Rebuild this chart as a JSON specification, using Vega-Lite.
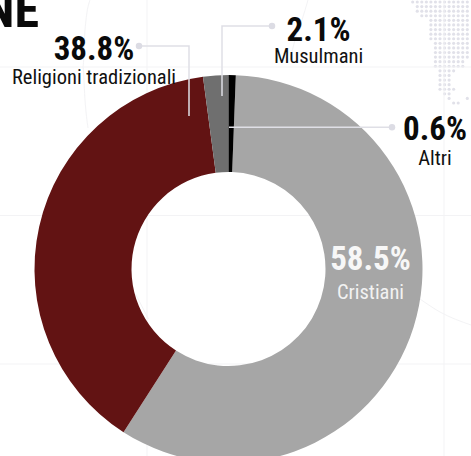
{
"$schema":"https://vega.github.io/schema/vega-lite/v6.json",
"width":471,"height":456,"padding":0,"autosize":{"type":"none"},
"background":"#ffffff",
"config":{"view":{"stroke":null},"axis":{"disable":true},"legend":{"disable":true}},
"datasets":{
"religions":[
{"category":"Cristiani","share":58.5,"slot":1,"labelX":142,"valueY":-1,"nameY":-30},
{"category":"Religioni tradizionali","share":38.8,"slot":2,"labelX":-134.5,"valueY":209,"nameY":185},
{"category":"Musulmani","share":2.1,"slot":3,"labelX":90,"valueY":228,"nameY":206},
{"category":"Altri","share":0.6,"slot":4,"labelX":206.5,"valueY":129,"nameY":104}
],
"leaders":[
{"who":"Religioni tradizionali","step":1,"x":-89.5,"y":223},{"who":"Religioni tradizionali","step":2,"x":-39.5,"y":223},{"who":"Religioni tradizionali","step":3,"x":-39.5,"y":153},
{"who":"Musulmani","step":1,"x":43.5,"y":243},{"who":"Musulmani","step":2,"x":-6.5,"y":243},{"who":"Musulmani","step":3,"x":-6.5,"y":173},
{"who":"Altri","step":1,"x":163.5,"y":141.7},{"who":"Altri","step":2,"x":0.5,"y":141.7}
],
"parallels":[{"y":202},{"y":53.5},{"y":-95}],
"meridians":[{"x":-81.5},{"x":215.5}],
"globeCurves":[
{"c":"a","s":1,"x":-138.5,"y":269},{"c":"a","s":2,"x":-143.5,"y":239},{"c":"a","s":3,"x":-145.5,"y":202},{"c":"a","s":4,"x":-143.5,"y":169},{"c":"a","s":5,"x":-140.5,"y":141},
{"c":"b","s":1,"x":79.5,"y":269},{"c":"b","s":2,"x":73.5,"y":249},{"c":"b","s":3,"x":66.5,"y":229},{"c":"b","s":4,"x":61.5,"y":209},
{"c":"c","s":1,"x":191.5,"y":-30},{"c":"c","s":2,"x":211.5,"y":-43},{"c":"c","s":3,"x":242.5,"y":-56},
{"c":"d","s":1,"x":-93,"y":-25},{"c":"d","s":2,"x":-80,"y":-50}
],
"mapDots":[
{"col":0,"row":0},{"col":1,"row":0},{"col":2,"row":0},{"col":3,"row":0},{"col":4,"row":0},{"col":5,"row":0},{"col":6,"row":0},{"col":7,"row":0},{"col":8,"row":0},{"col":9,"row":0},{"col":10,"row":0},{"col":11,"row":0},{"col":12,"row":0},
{"col":1,"row":1},{"col":2,"row":1},{"col":3,"row":1},{"col":4,"row":1},{"col":5,"row":1},{"col":6,"row":1},{"col":7,"row":1},{"col":8,"row":1},{"col":9,"row":1},{"col":10,"row":1},{"col":11,"row":1},{"col":12,"row":1},
{"col":1,"row":2},{"col":2,"row":2},{"col":3,"row":2},{"col":4,"row":2},{"col":5,"row":2},{"col":6,"row":2},{"col":7,"row":2},{"col":8,"row":2},{"col":9,"row":2},{"col":10,"row":2},{"col":11,"row":2},{"col":12,"row":2},
{"col":2,"row":3},{"col":3,"row":3},{"col":4,"row":3},{"col":5,"row":3},{"col":6,"row":3},{"col":7,"row":3},{"col":8,"row":3},{"col":9,"row":3},{"col":10,"row":3},{"col":11,"row":3},{"col":12,"row":3},
{"col":4,"row":4},{"col":5,"row":4},{"col":6,"row":4},{"col":7,"row":4},{"col":8,"row":4},{"col":9,"row":4},{"col":10,"row":4},{"col":11,"row":4},{"col":12,"row":4},
{"col":4,"row":5},{"col":5,"row":5},{"col":6,"row":5},{"col":7,"row":5},{"col":8,"row":5},{"col":9,"row":5},{"col":10,"row":5},{"col":11,"row":5},{"col":12,"row":5},
{"col":4,"row":6},{"col":5,"row":6},{"col":6,"row":6},{"col":7,"row":6},{"col":8,"row":6},{"col":9,"row":6},{"col":10,"row":6},{"col":11,"row":6},{"col":12,"row":6},
{"col":4,"row":7},{"col":5,"row":7},{"col":6,"row":7},{"col":7,"row":7},{"col":8,"row":7},{"col":9,"row":7},{"col":10,"row":7},{"col":11,"row":7},{"col":12,"row":7},
{"col":4,"row":8},{"col":5,"row":8},{"col":6,"row":8},{"col":7,"row":8},{"col":8,"row":8},{"col":9,"row":8},{"col":10,"row":8},{"col":11,"row":8},{"col":12,"row":8},
{"col":5,"row":9},{"col":6,"row":9},{"col":7,"row":9},{"col":8,"row":9},{"col":9,"row":9},{"col":10,"row":9},{"col":11,"row":9},{"col":12,"row":9},
{"col":5,"row":10},{"col":6,"row":10},{"col":7,"row":10},{"col":8,"row":10},{"col":9,"row":10},{"col":10,"row":10},{"col":11,"row":10},{"col":12,"row":10},
{"col":5,"row":11},{"col":6,"row":11},{"col":7,"row":11},{"col":8,"row":11},{"col":9,"row":11},{"col":10,"row":11},{"col":11,"row":11},{"col":12,"row":11},
{"col":5,"row":12},{"col":6,"row":12},{"col":7,"row":12},{"col":8,"row":12},{"col":9,"row":12},{"col":10,"row":12},{"col":11,"row":12},{"col":12,"row":12},
{"col":5,"row":13},{"col":6,"row":13},{"col":7,"row":13},{"col":8,"row":13},{"col":9,"row":13},{"col":10,"row":13},{"col":11,"row":13},
{"col":5,"row":14},{"col":6,"row":14},{"col":7,"row":14},{"col":8,"row":14},{"col":9,"row":14},{"col":10,"row":14},{"col":11,"row":14},
{"col":6,"row":15},{"col":7,"row":15},{"col":8,"row":15},{"col":9,"row":15},
{"col":6,"row":16},{"col":7,"row":16},{"col":8,"row":16},
{"col":6,"row":17},{"col":7,"row":17},{"col":8,"row":17},
{"col":6,"row":18},{"col":7,"row":18},{"col":8,"row":18},
{"col":6,"row":19},{"col":7,"row":19},{"col":8,"row":19},{"col":9,"row":19},
{"col":7,"row":20},{"col":8,"row":20},
{"col":8,"row":21},{"col":12,"row":21},
{"col":9,"row":22},{"col":10,"row":22}
]
},
"resolve":{"scale":{"x":"independent","y":"independent"}},
"layer":[
{
"data":{"name":"mapDots"},
"mark":{"type":"point","filled":true,"opacity":1,"size":10,"color":"#e1e1e9"},
"encoding":{
"x":{"field":"col","type":"quantitative","scale":{"domain":[0,12],"range":[412.7,467.3],"nice":false,"zero":false}},
"y":{"field":"row","type":"quantitative","scale":{"domain":[0,22],"range":[2,103],"nice":false,"zero":false}}
}
},
{
"layer":[
{"data":{"name":"parallels"},"mark":{"type":"rule","color":"#f3f3f5","strokeWidth":1},
"encoding":{"y":{"field":"y","type":"quantitative","scale":{"domain":[-187,269],"range":[456,0],"nice":false,"zero":false}}}},
{"data":{"name":"meridians"},"mark":{"type":"rule","color":"#f3f3f5","strokeWidth":1},
"encoding":{"x":{"field":"x","type":"quantitative","scale":{"domain":[-228.5,242.5],"range":[0,471],"nice":false,"zero":false}}}},
{"data":{"name":"globeCurves"},"mark":{"type":"line","color":"#f3f3f5","strokeWidth":1,"interpolate":"monotone"},
"encoding":{"x":{"field":"x","type":"quantitative"},"y":{"field":"y","type":"quantitative"},"detail":{"field":"c"},"order":{"field":"s"}}},
{"data":{"name":"religions"},"mark":{"type":"arc","outerRadius":194,"innerRadius":97},
"encoding":{
"x":{"datum":0,"type":"quantitative"},"y":{"datum":0,"type":"quantitative"},
"theta":{"field":"share","type":"quantitative","stack":true,"scale":{"domain":[0,100],"range":[0.0377,6.3209]}},
"order":{"field":"slot"},
"color":{"field":"category","type":"nominal","scale":{"domain":["Cristiani","Religioni tradizionali","Musulmani","Altri"],"range":["#a6a6a6","#621313","#6f6f6f","#000000"]}}
}},
{"data":{"name":"leaders"},"mark":{"type":"line","color":"#dfdfe6","strokeWidth":1.5},
"encoding":{"x":{"field":"x","type":"quantitative"},"y":{"field":"y","type":"quantitative"},"detail":{"field":"who"},"order":{"field":"step"}}},
{"data":{"name":"leaders"},"transform":[{"filter":"datum.step==1"}],"mark":{"type":"point","filled":true,"opacity":1,"size":42,"color":"#dcdce4"},
"encoding":{"x":{"field":"x","type":"quantitative"},"y":{"field":"y","type":"quantitative"}}},
{"data":{"name":"religions"},"transform":[{"filter":"datum.category!='Cristiani'"},{"calculate":"format(datum.share,'.1f')+'%'","as":"pct"}],
"mark":{"type":"text","font":"Roboto Condensed, DejaVu Sans Condensed, Liberation Sans Narrow, sans-serif","fontWeight":"bold","fontSize":33,"baseline":"alphabetic","align":"center","color":"#0a0a0a"},
"encoding":{"x":{"field":"labelX","type":"quantitative"},"y":{"field":"valueY","type":"quantitative"},"text":{"field":"pct"}}},
{"data":{"name":"religions"},"transform":[{"filter":"datum.category!='Cristiani'"}],
"mark":{"type":"text","font":"Roboto Condensed, DejaVu Sans Condensed, Liberation Sans Narrow, sans-serif","fontSize":20.5,"baseline":"alphabetic","align":"center","color":"#111111"},
"encoding":{"x":{"field":"labelX","type":"quantitative"},"y":{"field":"nameY","type":"quantitative"},"text":{"field":"category"}}},
{"data":{"name":"religions"},"transform":[{"filter":"datum.category=='Cristiani'"},{"calculate":"format(datum.share,'.1f')+'%'","as":"pct"}],
"mark":{"type":"text","font":"Roboto Condensed, DejaVu Sans Condensed, Liberation Sans Narrow, sans-serif","fontWeight":"bold","fontSize":33,"baseline":"alphabetic","align":"center","color":"#f7f7f7"},
"encoding":{"x":{"field":"labelX","type":"quantitative"},"y":{"field":"valueY","type":"quantitative"},"text":{"field":"pct"}}},
{"data":{"name":"religions"},"transform":[{"filter":"datum.category=='Cristiani'"}],
"mark":{"type":"text","font":"Roboto Condensed, DejaVu Sans Condensed, Liberation Sans Narrow, sans-serif","fontSize":20.5,"baseline":"alphabetic","align":"center","color":"#f2f2f2"},
"encoding":{"x":{"field":"labelX","type":"quantitative"},"y":{"field":"nameY","type":"quantitative"},"text":{"field":"category"}}},
{"mark":{"type":"text","font":"Roboto Condensed, DejaVu Sans Condensed, Liberation Sans Narrow, sans-serif","fontWeight":"bold","fontSize":50,"baseline":"alphabetic","align":"right","color":"#0a0a0a"},
"data":{"values":[{"heading":"NE","x":-189.5,"y":242}]},
"encoding":{"x":{"field":"x","type":"quantitative"},"y":{"field":"y","type":"quantitative"},"text":{"field":"heading"}}}
]
}
]
}
